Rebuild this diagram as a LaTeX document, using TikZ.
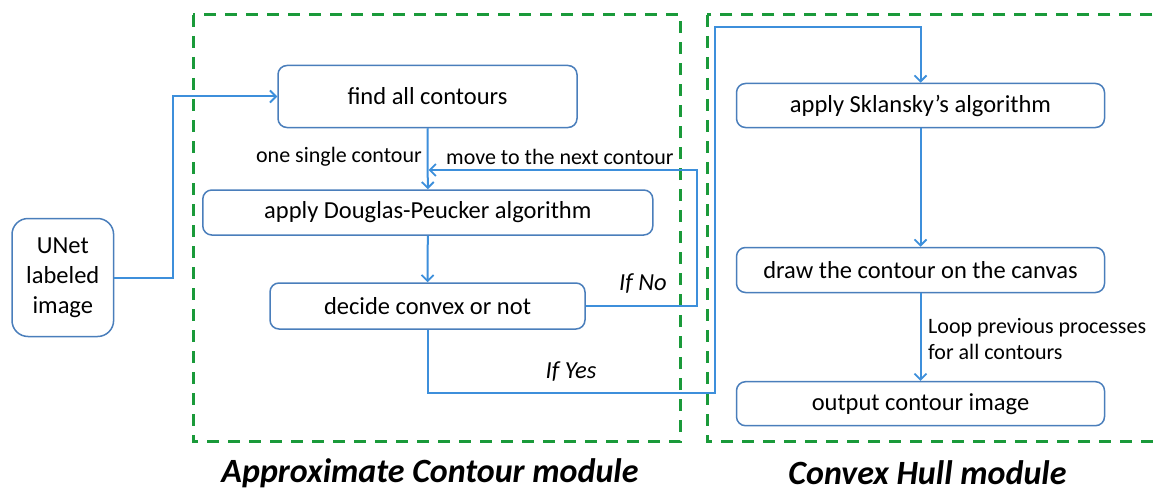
\documentclass[tikz,border=0pt]{standalone}
\usepackage{fontspec}
\setmainfont{Carlito}
\usetikzlibrary{arrows.meta}
\definecolor{boxblue}{HTML}{4A7EBB}
\definecolor{linkblue}{HTML}{3D8FDB}
\definecolor{dashgreen}{HTML}{1A9A3A}
\begin{document}
\begin{tikzpicture}[x=1pt,y=-1pt,
  stepbox/.style={draw=boxblue,line width=1.5pt,rounded corners=9pt,inner sep=0pt,
     font=\fontsize{24.5}{30}\selectfont,align=center},
  link/.style={draw=linkblue,line width=2pt},
  arr/.style={link,-{Straight Barb[length=6pt,width=12pt,line width=1.8pt]}},
  modbox/.style={draw=dashgreen,line width=3pt,dash pattern=on 12pt off 9pt},
  lbl/.style={font=\fontsize{22}{26}\selectfont,inner sep=0pt},
  title/.style={font=\fontsize{34}{40}\selectfont\bfseries\itshape,inner sep=0pt}]
\useasboundingbox (0,0) rectangle (1155,492);
\begin{scope}
\clip (0,0) rectangle (1155,492);
\draw[modbox] (193,15) rectangle (680.7,441.7);
\draw[modbox] (707,15) rectangle (1175,441.7);
\end{scope}
\node[stepbox,minimum width=299pt,minimum height=62pt] (find) at (427.5,96.5) {find all contours};
\node[stepbox,minimum width=450pt,minimum height=45pt] (dp) at (427.8,212.5) {apply Douglas-Peucker algorithm};
\node[stepbox,minimum width=315pt,minimum height=46pt] (decide) at (427.5,306) {decide convex or not};
\node[stepbox,rounded corners=16pt,minimum width=101.6pt,minimum height=118pt] (unet) at (62.8,277.5) {UNet\\labeled\\image};
\node[stepbox,minimum width=368pt,minimum height=44pt] (skl) at (920.5,105.5) {apply Sklansky’s algorithm};
\node[stepbox,minimum width=368pt,minimum height=45pt] (drawc) at (920.5,270) {draw the contour on the canvas};
\node[stepbox,minimum width=368pt,minimum height=44pt] (out) at (920.5,403.7) {output contour image};
\coordinate (entry) at (173,277.5);
\coordinate (fbr) at (697,306);
\coordinate (fbt) at (697,170);
\coordinate (fbend) at (428.6,170);
\coordinate (ya) at (427.5,393.3);
\coordinate (yb) at (714.5,393.3);
\coordinate (yc) at (714.5,26.7);
\coordinate (yd) at (920.5,26.7);
\draw[arr] (unet.east) -- (entry) |- (find.west);
\draw[arr] (find.south) -- (dp.north);
\draw[arr] (dp.south) -- (decide.north);
\draw[arr] (decide.east) -- (fbr) -- (fbt) -- (fbend);
\draw[arr] (decide.south) -- (ya) -- (yb) -- (yc) -- (yd) -- (skl.north);
\draw[arr] (skl.south) -- (drawc.north);
\draw[arr] (drawc.south) -- (out.north);
\node[lbl,anchor=east] (l1) at (422,156.7) {one single contour};
\node[lbl,anchor=west] (l2) at (446,156.7) {move to the next contour};
\node[lbl,font=\fontsize{24.5}{30}\selectfont\itshape] (lno) at (643,283.3) {If No};
\node[lbl,font=\fontsize{24.5}{30}\selectfont\itshape] (lyes) at (571,371.7) {If Yes};
\node[lbl,anchor=west,align=left] (lloop) at (928,338.7) {Loop previous processes\\for all contours};
\node[title] (t1) at (430,473) {Approximate Contour module};
\node[title] (t2) at (927.5,473) {Convex Hull module};
\end{tikzpicture}
\end{document}
